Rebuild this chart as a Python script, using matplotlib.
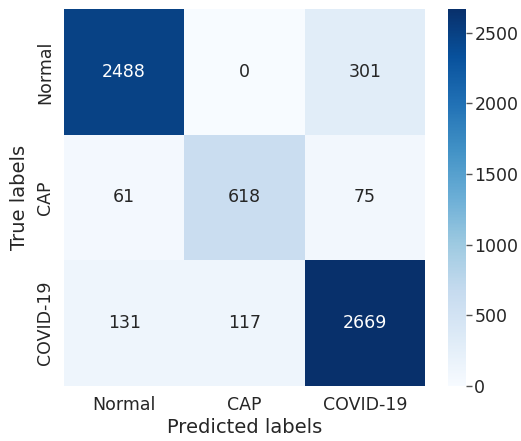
import numpy as np
import matplotlib
matplotlib.use("Agg")
import matplotlib.pyplot as plt
import seaborn as sns

# --- dados da matriz de confusão ---
labels = ["Normal", "CAP", "COVID-19"]
row_normal = [2488, 0, 301]
row_cap = [61, 618, 75]
row_covid = [131, 117, 2669]
cm = np.array([row_normal, row_cap, row_covid])

sns.set()

W, H = 521, 441
fig = plt.figure(figsize=(W / 100, H / 100), dpi=100)
ax = fig.add_axes([64 / W, 1 - 386 / H, (425 - 64) / W, (386 - 9) / H])
cax = fig.add_axes([448 / W, 1 - 386 / H, (466 - 448) / W, (386 - 9) / H])

sns.heatmap(cm, annot=True, fmt="d", cmap="Blues", ax=ax, cbar_ax=cax,
            xticklabels=labels, yticklabels=labels,
            annot_kws={"fontsize": 12.5})
ax.set_xlabel("Predicted labels", fontsize=14, labelpad=3)
ax.set_ylabel("True labels", fontsize=14, labelpad=5)
ax.tick_params(labelsize=12.5, length=0, pad=7)
cax.tick_params(labelsize=12.5, right=True, length=4, width=1,
                color="#555555", pad=2)

fig.savefig("out.png", dpi=100)
